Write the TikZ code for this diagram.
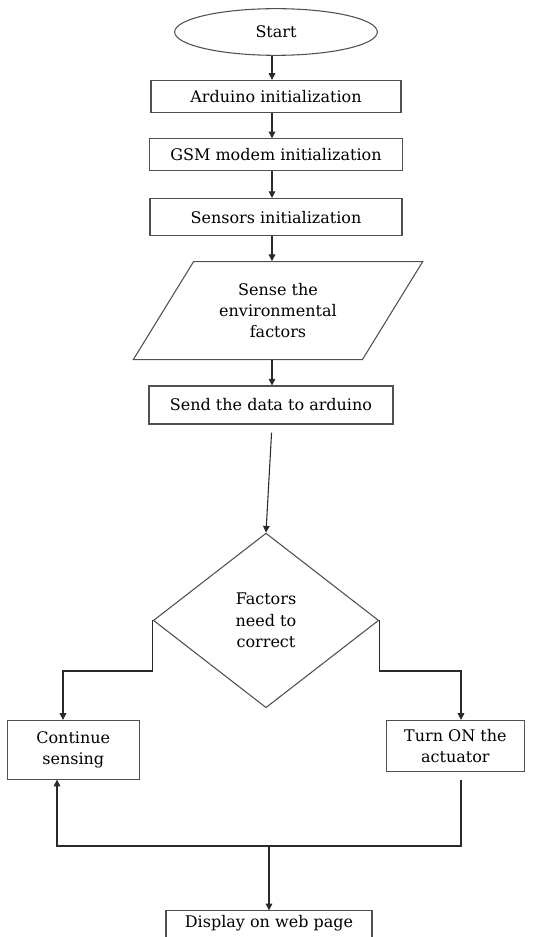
\documentclass[tikz,border=0pt]{standalone}
\usepackage{fontspec}
\setmainfont{DejaVu Serif}
\usetikzlibrary{arrows.meta,positioning,shapes.geometric}
\definecolor{Edge}{HTML}{505050}
\definecolor{Wire}{HTML}{2A2A2A}
\tikzset{
  chart/.style={draw=Edge, line width=0.8pt, fill=white, align=center, inner sep=2pt, font=\fontsize{12}{16}\selectfont},
  proc/.style={chart, rectangle},
  term/.style={chart, ellipse},
  io/.style={chart, trapezium, trapezium left angle=54, trapezium right angle=126, trapezium stretches=true},
  decide/.style={chart, diamond, inner sep=0pt},
  arrow/.style={-{Triangle[length=5pt, width=5pt]}, line width=0.8pt, draw=Wire}
}
\begin{document}
\begin{tikzpicture}[x=0.75pt, y=-0.75pt]
\useasboundingbox (0,0) rectangle (532,937);
\coordinate (axis) at (272,0);
\node[term, minimum width=152pt, minimum height=35pt] (start) at (276,32) {Start};
\node[proc, below=18pt of start, minimum width=187.5pt, minimum height=24pt] (arduino) {Arduino initialization};
\node[proc, below=19pt of arduino, minimum width=190pt, minimum height=24pt] (gsm) {GSM modem initialization};
\node[proc, below=20pt of gsm, minimum width=189pt, minimum height=28pt] (sensors) {Sensors initialization};
\node[io, below=18.5pt of sensors, xshift=1.5pt, minimum width=217.5pt, minimum height=73.5pt] (sense) {Sense the\\environmental\\factors};
\node[proc, below=19pt of sense, xshift=-5.25pt, minimum width=183pt, minimum height=28.5pt] (send) {Send the data to arduino};
\node[decide, below=81pt of send, xshift=-3.75pt, minimum width=169pt, minimum height=131pt] (dec) {Factors\\need to\\correct};
\node[proc, below left=74.6pt and 9.75pt of dec.west, minimum width=99pt, minimum height=44pt] (cont) {Continue\\sensing};
\node[proc, below right=74.6pt and 5.25pt of dec.east, minimum width=103pt, minimum height=38pt] (turn) {Turn ON the\\actuator};
\node[proc, below=151.5pt of dec.south, xshift=2.25pt, minimum width=154.5pt, inner ysep=2pt, text height=10.5pt, text depth=8pt] (display) {Display on web page};
% main chain
\foreach \a/\b in {start/arduino, arduino/gsm, gsm/sensors, sensors/sense, sense/send}
  \draw[arrow] (\a.south -| axis) -- (\b.north -| axis);
\draw[arrow, shorten <=6pt] (send.south -| axis) -- (dec.north);
% branches
\coordinate (lturn) at (63,671);
\coordinate (rturn) at (461,671);
\draw[arrow] (dec.west) |- (lturn) -- (lturn |- cont.north);
\draw[arrow] (dec.east) |- (rturn) -- (rturn |- turn.north);
% join and output
\coordinate (rjoin) at (461,846);
\coordinate (ljoin) at (57,846);
\draw[arrow, shorten <=6.5pt] (rjoin |- turn.south) -- (rjoin) -- (ljoin) -- (ljoin |- cont.south);
\draw[arrow] (display.north |- rjoin) -- (display.north);
\end{tikzpicture}
\end{document}
